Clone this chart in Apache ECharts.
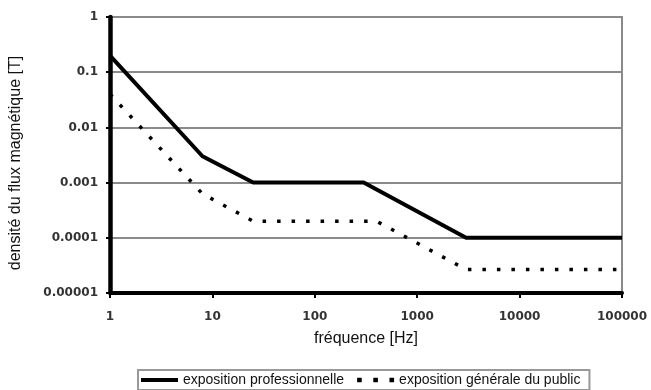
<!DOCTYPE html>
<html>
<head>
<meta charset="utf-8">
<script src="https://cdn.jsdelivr.net/npm/echarts@6/dist/echarts.min.js"></script>
<style>
html,body{margin:0;padding:0;background:#fff;}
#chart{width:651px;height:390px;}
</style>
</head>
<body>
<div id="chart"></div>
<script>
// Data
const seriesNames = ['exposition professionnelle', 'exposition générale du public'];
const freqPro = [1, 8, 25, 300, 3000, 100000];
const bPro = [0.2, 0.003, 0.001, 0.001, 0.0001, 0.0001];
const freqPub = [1, 8, 25, 400, 3000, 100000];
const bPub = [0.04, 0.000625, 0.0002, 0.0002, 0.0000267, 0.0000267];
const xTickLabels = ['1', '10', '100', '1000', '10000', '100000'];
const yTickLabels = ['0.00001', '0.0001', '0.001', '0.01', '0.1', '1'];
const xName = 'fréquence [Hz]';
const yName = 'densité du flux magnétique [T]';

const chart = echarts.init(document.getElementById('chart'), null, {renderer: 'canvas'});

const labelFont = {fontFamily: 'DejaVu Sans', fontWeight: 'bold', fontSize: 12, color: '#333'};

const option = {
  backgroundColor: '#fff',
  animation: false,
  grid: {
    left: 105, right: 29, top: 17, bottom: 97,
    show: true, borderColor: '#8a8a8a', borderWidth: 2, backgroundColor: '#fff'
  },
  xAxis: {
    type: 'log', logBase: 10, min: 1, max: 100000,
    name: xName, nameLocation: 'middle', nameGap: 38,
    nameTextStyle: {fontFamily: 'Liberation Sans', fontSize: 16, color: '#111'},
    axisLine: {show: true, onZero: false, lineStyle: {color: '#000', width: 4}},
    axisTick: {show: true, inside: false, length: 5, lineStyle: {color: '#000', width: 2}},
    axisLabel: Object.assign({margin: 18, formatter: function (v) {
      const i = Math.round(Math.log10(v));
      return xTickLabels[i] !== undefined ? xTickLabels[i] : '';
    }}, labelFont),
    splitLine: {show: false},
    minorTick: {show: false}
  },
  yAxis: {
    type: 'log', logBase: 10, min: 0.00001, max: 1,
    name: yName, nameLocation: 'middle', nameGap: 86, nameRotate: 90,
    nameTextStyle: {fontFamily: 'Liberation Sans', fontSize: 16, color: '#111', padding: [0, 16, 0, 0]},
    axisLine: {show: true, onZero: false, lineStyle: {color: '#000', width: 4.5}},
    axisTick: {show: true, inside: false, length: 4, lineStyle: {color: '#000', width: 2}},
    axisLabel: Object.assign({margin: 12, formatter: function (v) {
      const i = Math.round(Math.log10(v)) + 5;
      return yTickLabels[i] !== undefined ? yTickLabels[i] : '';
    }}, labelFont),
    splitLine: {show: true, lineStyle: {color: '#8a8a8a', width: 2}}
  },
  legend: {
    left: 138, top: 370,
    padding: [3, 9, 3, 3],
    itemGap: 13,
    itemWidth: 37, itemHeight: 5,
    borderColor: '#999', borderWidth: 2,
    textStyle: {fontFamily: 'Liberation Sans', fontSize: 14, color: '#111'},
    data: [
      {name: seriesNames[0], icon: 'path://M0,0H37V4H0Z'},
      {name: seriesNames[1], icon: 'path://M0,0h4v4h-4zM14,0h4v4h-4zM28,0h4v4h-4z'}
    ]
  },
  series: [
    {
      name: seriesNames[0], type: 'line',
      data: freqPro.map((f, i) => [f, bPro[i]]),
      showSymbol: false, symbol: 'none',
      lineStyle: {color: '#000', width: 4},
      itemStyle: {color: '#000'},
      z: 3
    },
    {
      name: seriesNames[1], type: 'line',
      data: freqPub.map((f, i) => [f, bPub[i]]),
      showSymbol: false, symbol: 'none',
      lineStyle: {color: '#000', width: 3.5, type: [3.5, 11]},
      itemStyle: {color: '#000'},
      z: 3
    }
  ]
};
chart.setOption(option);
</script>
</body>
</html>
